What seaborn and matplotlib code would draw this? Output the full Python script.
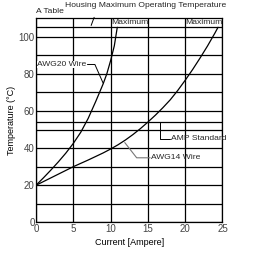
import matplotlib
matplotlib.use("Agg")
import matplotlib.pyplot as plt
import seaborn as sns
import pandas as pd

sns.set_theme(style="white")
plt.rcParams['font.family'] = ['Liberation Sans', 'DejaVu Sans']

# Data
awg20_current = [0, 1, 2, 3, 4, 5, 6, 7, 8, 9, 9.5, 10, 10.5, 10.9]
awg20_temp = [20, 24, 28.2, 32.6, 37.3, 42.5, 48.5, 56, 65, 74.5, 80, 87, 95, 105]
awg14_current = [0, 1, 2, 3, 4, 5, 6, 7, 8, 9, 10, 11, 12, 13, 14, 15, 16, 17,
                 18, 19, 20, 21, 22, 23, 24, 24.4]
awg14_temp = [20, 22, 24, 26, 28, 30, 31.8, 33.6, 35.5, 37.4, 39.5, 41.8, 44.4,
              47.3, 50.5, 54, 57.7, 61.7, 66, 71, 76.5, 82.3, 88.5, 95, 102, 105]
x_ticks = [0, 5, 10, 15, 20, 25]
y_ticks = [0, 20, 40, 60, 80, 100]
extra_grid_temps = [10, 30, 50, 54, 70, 90, 105]

df = pd.concat([
    pd.DataFrame({"current": awg20_current, "temp": awg20_temp, "wire": "AWG20 Wire"}),
    pd.DataFrame({"current": awg14_current, "temp": awg14_temp, "wire": "AWG14 Wire"}),
])

fig = plt.figure(figsize=(2.55, 2.59), dpi=100)
ax = fig.add_axes([0.141, 0.141, 0.7315, 0.7895])

sns.lineplot(data=df, x="current", y="temp", units="wire", estimator=None,
             color="black", lw=0.9, ax=ax, sort=False)

ax.set_xlim(0, 25)
ax.set_ylim(0, 110)
ax.set_xticks(x_ticks)
ax.set_yticks(y_ticks)
ax.set_yticks(extra_grid_temps, minor=True)
ax.grid(True, which="both", color="black", lw=0.9)
ax.tick_params(which="both", length=0, labelsize=7, labelcolor="#444444", pad=1)
for s in ax.spines.values():
    s.set_color("black")
    s.set_linewidth(0.9)

ax.set_xlabel("Current [Ampere]", fontsize=6.5, labelpad=3, color="black")
ax.set_ylabel("Temperature (\u00b0C)", fontsize=6.5, labelpad=2, color="black")

fs = 6.1
ax.text(0, 113.5, "A Table", fontsize=fs, ha="left", va="center", clip_on=False)
ax.annotate("Housing Maximum Operating Temperature", xy=(7.4, 106), xytext=(14.7, 116.8),
            fontsize=fs, ha="center", va="center", annotation_clip=False,
            arrowprops=dict(arrowstyle="-", color="black", lw=0.7, shrinkA=4, shrinkB=0,
                            relpos=(0.2, 0.0)))
ax.text(10.1, 107.6, "Maximum", fontsize=fs, ha="left", va="center")
ax.text(24.95, 107.6, "Maximum", fontsize=fs, ha="right", va="center")

ax.text(0.15, 85, "AWG20 Wire", fontsize=fs, ha="left", va="center",
        bbox=dict(facecolor="white", edgecolor="none", pad=0.3))
ax.plot([6.9, 7.9, 9.0], [85, 85, 75], color="black", lw=0.7)

ax.plot([16.6, 16.6, 18.0], [54, 45, 45], color="black", lw=0.7)
ax.text(18.1, 45, "AMP Standard", fontsize=fs, ha="left", va="center")

ax.plot([11.9, 13.5, 15.3], [43.0, 34.8, 34.8], color="#777777", lw=0.8)
ax.text(15.4, 34.8, "AWG14 Wire", fontsize=fs, ha="left", va="center")

fig.savefig("out.png", dpi=100)
